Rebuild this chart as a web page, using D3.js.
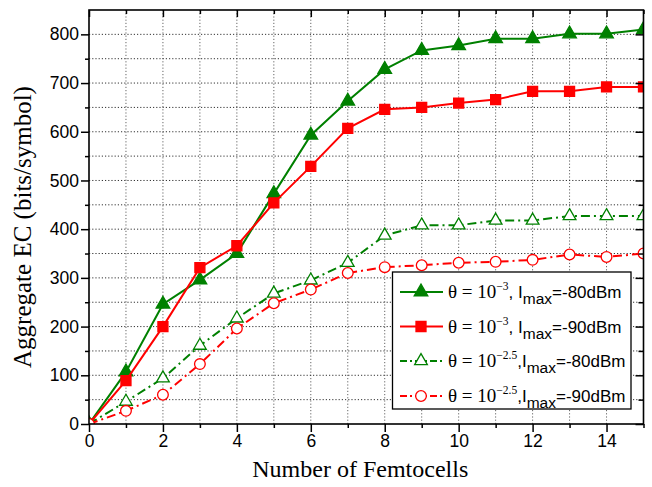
<!DOCTYPE html>
<html><head><meta charset="utf-8">
<script src="https://cdn.jsdelivr.net/npm/d3@7"></script>
<style>
html,body{margin:0;padding:0;background:#fff;}
svg{display:block;}
</style></head>
<body>
<svg id="chart" width="652" height="487"></svg>
<script>
// ---- data ----
const femtocells = [0,1,2,3,4,5,6,7,8,9,10,11,12,13,14,15];
const ecTheta3_80 = [0,107,246,296,350,473,593,663,728,767,777,791,791,801,801,810];
const ecTheta3_90 = [0,89,200,321,366,454,529,607,646,650,659,666,683,683,692,692];
const ecTheta25_80 = [0,46,94,161,217,268,295,331,387,408,408,418,418,427,427,427];
const ecTheta25_90 = [0,27,60,123,196,248,276,310,322,326,331,333,337,348,343,350];
const xMajorTicks = [0,2,4,6,8,10,12,14];
const xMinorTicks = [1,3,5,7,9,11,13,15];
const yMajorTicks = [0,100,200,300,400,500,600,700,800];
const yMinorTicks = [50,150,250,350,450,550,650,750];
const seriesNames = [
  {exp:"\u22123", val:"=-80dBm"},
  {exp:"\u22123", val:"=-90dBm"},
  {exp:"\u22122.5", val:"=-80dBm"},
  {exp:"\u22122.5", val:"=-90dBm"}
];
const xTitle = "Number of Femtocells";
const yTitle = "Aggregate EC (bits/symbol)";

// ---- layout ----
const L = 89, R = 643.5, T = 10, B = 424;
const svg = d3.select("#chart");
const x = d3.scaleLinear().domain([0,15]).range([L,R]);
const y = d3.scaleLinear().domain([0,850]).range([B,T]);
const GREEN = "#008000", RED = "#ff0000";
const sans = "'Liberation Sans', Arial, sans-serif";
const serif = "'Liberation Serif', 'Times New Roman', serif";

// grid
const grid = svg.append("g");
grid.selectAll("line.v").data(d3.range(1,15)).join("line")
  .attr("x1", d=>x(d)).attr("x2", d=>x(d)).attr("y1", T).attr("y2", B)
  .attr("stroke", "#666").attr("stroke-width", 1).attr("stroke-dasharray", "1.2,2");
grid.selectAll("line.h").data(d3.range(50,850,50)).join("line")
  .attr("y1", d=>y(d)).attr("y2", d=>y(d)).attr("x1", L).attr("x2", R)
  .attr("stroke", "#333").attr("stroke-width", 1).attr("stroke-dasharray", "1.2,2");

// series
const series = [
  {vals: ecTheta3_80, color: GREEN, dash: null, sym: d3.symbolTriangle, size: 80, fill: GREEN},
  {vals: ecTheta3_90, color: RED, dash: null, sym: d3.symbolSquare, size: 100, fill: RED},
  {vals: ecTheta25_80, color: GREEN, dash: "9,4,2,4", sym: d3.symbolTriangle, size: 70, fill: "#fff"},
  {vals: ecTheta25_90, color: RED, dash: "9,4,2,4", sym: d3.symbolCircle, size: 90, fill: "#fff"}
];
svg.append("clipPath").attr("id","clip").append("rect")
  .attr("x", L).attr("y", T).attr("width", R-L).attr("height", B-T);
const plot = svg.append("g").attr("clip-path","url(#clip)");
const line = d3.line().x(d=>x(d[0])).y(d=>y(d[1]));
series.forEach(s=>{
  const pts = femtocells.map((f,i)=>[f, s.vals[i]]);
  plot.append("path").datum(pts).attr("d", line)
    .attr("fill","none").attr("stroke", s.color).attr("stroke-width", 2)
    .attr("stroke-dasharray", s.dash);
  plot.selectAll(null).data(pts).join("path")
    .attr("transform", d=>`translate(${x(d[0])},${y(d[1])})`)
    .attr("d", d3.symbol().type(s.sym).size(s.size)())
    .attr("fill", s.fill).attr("stroke", s.color).attr("stroke-width", 1.3);
});

// axes
function styleAxis(g){
  g.select(".domain").remove();
  g.selectAll("line").attr("stroke","#000").attr("stroke-width",1.5);
  g.selectAll("text").attr("font-family", sans).attr("font-size", 17.5).attr("fill","#000");
}
svg.append("g").attr("transform",`translate(0,${B})`)
  .call(d3.axisBottom(x).tickValues(xMajorTicks).tickSize(8).tickPadding(3).tickFormat(d3.format("d"))).call(styleAxis);
svg.append("g").attr("transform",`translate(0,${B})`)
  .call(d3.axisBottom(x).tickValues(xMinorTicks).tickSize(4).tickFormat("")).call(styleAxis);
svg.append("g").attr("transform",`translate(0,${T})`)
  .call(d3.axisBottom(x).tickValues(xMajorTicks).tickSize(7).tickFormat("")).call(styleAxis);
svg.append("g").attr("transform",`translate(0,${T})`)
  .call(d3.axisBottom(x).tickValues(xMinorTicks).tickSize(4).tickFormat("")).call(styleAxis);
svg.append("g").attr("transform",`translate(${L},0)`)
  .call(d3.axisLeft(y).tickValues(yMajorTicks).tickSize(8).tickPadding(2).tickFormat(d3.format("d"))).call(styleAxis);
svg.append("g").attr("transform",`translate(${L},0)`)
  .call(d3.axisLeft(y).tickValues(yMinorTicks).tickSize(4).tickFormat("")).call(styleAxis);
svg.append("g").attr("transform",`translate(${R},0)`)
  .call(d3.axisLeft(y).tickValues(yMajorTicks).tickSize(8).tickFormat("")).call(styleAxis);
svg.append("g").attr("transform",`translate(${R},0)`)
  .call(d3.axisLeft(y).tickValues(yMinorTicks).tickSize(5).tickFormat("")).call(styleAxis);

// frame
svg.append("rect").attr("x",L).attr("y",T).attr("width",R-L).attr("height",B-T)
  .attr("fill","none").attr("stroke","#000").attr("stroke-width",1.6);

// titles
svg.append("text").attr("x",(L+R)/2 - 6).attr("y",477).attr("text-anchor","middle")
  .attr("font-family",serif).attr("font-size",24).text(xTitle);
svg.append("text").attr("transform","translate(31,227) rotate(-90)").attr("text-anchor","middle")
  .attr("font-family",serif).attr("font-size",25).text(yTitle);

// legend
const lg = svg.append("g");
lg.append("rect").attr("x",392.5).attr("y",272).attr("width",238.5).attr("height",137)
  .attr("fill","#fff").attr("stroke","#000").attr("stroke-width",1.3);
const rowY = [292, 326.5, 361, 396];
series.forEach((s,i)=>{
  const cy = rowY[i];
  lg.append("line").attr("x1",400).attr("x2",443).attr("y1",cy).attr("y2",cy)
    .attr("stroke",s.color).attr("stroke-width",2).attr("stroke-dasharray", s.dash ? "7,3,2,3" : null);
  lg.append("path").attr("transform",`translate(421,${cy})`)
    .attr("d", d3.symbol().type(s.sym).size(s.size)())
    .attr("fill", s.fill).attr("stroke", s.color).attr("stroke-width",1.3);
  const t = lg.append("text").attr("x",448).attr("y",cy+6).attr("fill","#000");
  t.append("tspan").attr("font-family",serif).attr("font-size",19).text("\u03b8 = 10");
  t.append("tspan").attr("font-family",serif).attr("font-size",11.5).attr("dy",-8).text(seriesNames[i].exp);
  t.append("tspan").attr("font-family",sans).attr("font-size",17).attr("dy",8).text(i<2 ? ", I" : ",I");
  t.append("tspan").attr("font-family",sans).attr("font-size",15.5).attr("dy",6).text("max");
  t.append("tspan").attr("font-family",sans).attr("font-size",17).attr("dy",-6).text(seriesNames[i].val);
});
</script>
</body></html>
